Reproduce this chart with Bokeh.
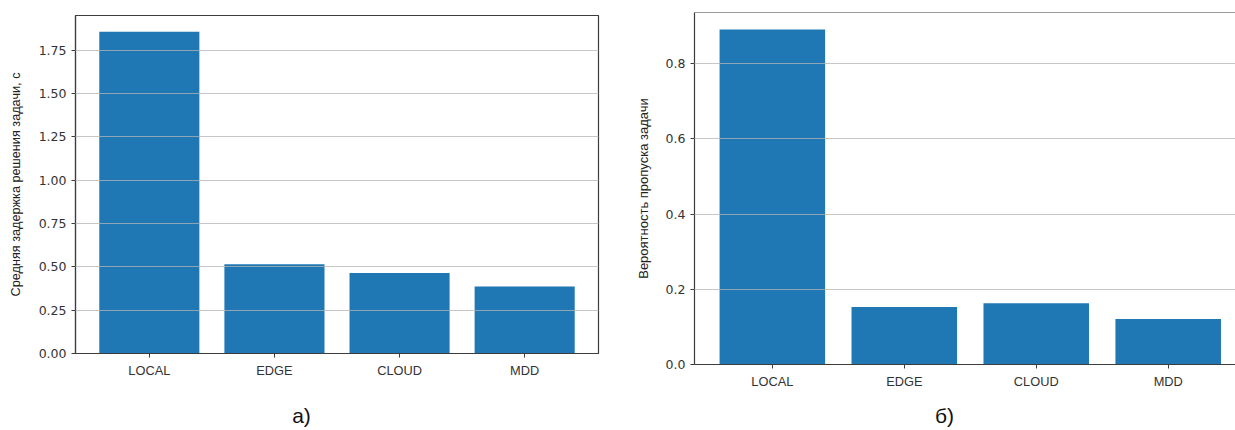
from bokeh.plotting import figure
from bokeh.layouts import row, column
from bokeh.models import Range1d, FixedTicker, PrintfTickFormatter, Span
from bokeh.core.properties import value
from bokeh.embed import file_html
from bokeh.resources import INLINE

# Data
categories = ["LOCAL", "EDGE", "CLOUD", "MDD"]
mean_delay_s = [1.856, 0.514, 0.464, 0.387]
miss_probability = [0.891, 0.153, 0.163, 0.121]
delay_ticks = [0.0, 0.25, 0.5, 0.75, 1.0, 1.25, 1.5, 1.75]
prob_ticks = [0.0, 0.2, 0.4, 0.6, 0.8]
captions = ["а)", "б)"]

positions = list(range(len(categories)))
BAR = "#1f77b4"
FRAME = "#3c3c3c"
TICK_FONT = "DejaVu Sans"
LABEL_FONT = "Liberation Sans"
CAPTION_FONT = "'Liberation Sans Narrow', 'Liberation Sans'"
PLOT_H = 395
CAPTION_H = 35


def make_panel(values, ticks, fmt, ylabel, label_size, width, x_end, y_end,
               border_left, border_right, border_top, border_bottom, label_standoff,
               full_frame):
    p = figure(width=width, height=PLOT_H, output_backend="svg",
               toolbar_location=None, tools="",
               x_range=Range1d(-0.59, x_end), y_range=Range1d(0, y_end),
               min_border_left=border_left, min_border_top=border_top,
               min_border_bottom=border_bottom, min_border_right=border_right)
    p.vbar(x=positions, top=values, width=0.8, fill_color=BAR, line_color=None)

    p.xgrid.visible = False
    p.ygrid.grid_line_color = "#b4b4b4"
    p.ygrid.grid_line_alpha = 0.75
    p.ygrid.level = "overlay"
    p.ygrid.ticker = FixedTicker(ticks=ticks)

    p.xaxis.ticker = FixedTicker(ticks=positions)
    p.xaxis.major_label_overrides = {i: c for i, c in zip(positions, categories)}
    p.yaxis.ticker = FixedTicker(ticks=ticks)
    p.yaxis.formatter = PrintfTickFormatter(format=fmt)
    p.yaxis.axis_label = ylabel

    for ax in (p.xaxis[0], p.yaxis[0]):
        ax.axis_line_color = FRAME
        ax.axis_line_width = 1.2
        ax.major_tick_line_color = FRAME
        ax.major_tick_in = 0
        ax.major_tick_out = 4
        ax.minor_tick_line_color = None
        ax.major_label_text_color = "#333333"
        ax.major_label_standoff = 5
    p.xaxis.major_label_text_font = LABEL_FONT
    p.xaxis.major_label_text_font_size = "12.8px"
    p.yaxis.major_label_text_font = TICK_FONT
    p.yaxis.major_label_text_font_size = "12.5px"
    p.yaxis.axis_label_text_font = LABEL_FONT
    p.yaxis.axis_label_text_font_size = label_size
    p.yaxis.axis_label_text_font_style = "normal"
    p.yaxis.axis_label_text_color = "#222222"
    p.yaxis.axis_label_standoff = label_standoff

    if full_frame:
        p.outline_line_color = FRAME
        p.outline_line_width = 1.2
    else:
        p.outline_line_color = None
        p.add_layout(Span(location=y_end, dimension="width",
                          line_color=FRAME, line_width=1.2, level="overlay"))
    return p


def caption_strip(text, width, frame_left, frame_right, center_x):
    # thin strip under a panel holding its letter caption; the column aligns
    # its frame with the panel frame, so the x range spans the same pixels
    c = figure(width=width, height=CAPTION_H, output_backend="svg",
               toolbar_location=None, tools="",
               x_axis_location=None, y_axis_location=None,
               x_range=Range1d(frame_left, frame_right), y_range=Range1d(0, CAPTION_H),
               min_border=0)
    c.grid.visible = False
    c.outline_line_color = None
    c.text(x=[center_x], y=[CAPTION_H - 20], text=[text],
           text_font=value(CAPTION_FONT), text_font_size="21px",
           text_color="#111111", text_align="center", text_baseline="middle")
    return c


left = make_panel(mean_delay_s, delay_ticks, "%.2f",
                  "Средняя задержка решения задачи, с", "12.7px",
                  width=620, x_end=3.59, y_end=1.949,
                  border_left=75, border_right=22, border_top=15, border_bottom=42,
                  label_standoff=13, full_frame=True)

right = make_panel(miss_probability, prob_ticks, "%.1f",
                   "Вероятность пропуска задачи", "13px",
                   width=615, x_end=3.51, y_end=0.936,
                   border_left=74, border_right=0, border_top=12, border_bottom=31,
                   label_standoff=12, full_frame=False)

layout = row(column(left, caption_strip(captions[0], 620, 75, 598, 301)),
             column(right, caption_strip(captions[1], 615, 74, 615, 324)))
open("out.html", "w").write(file_html(layout, INLINE))
